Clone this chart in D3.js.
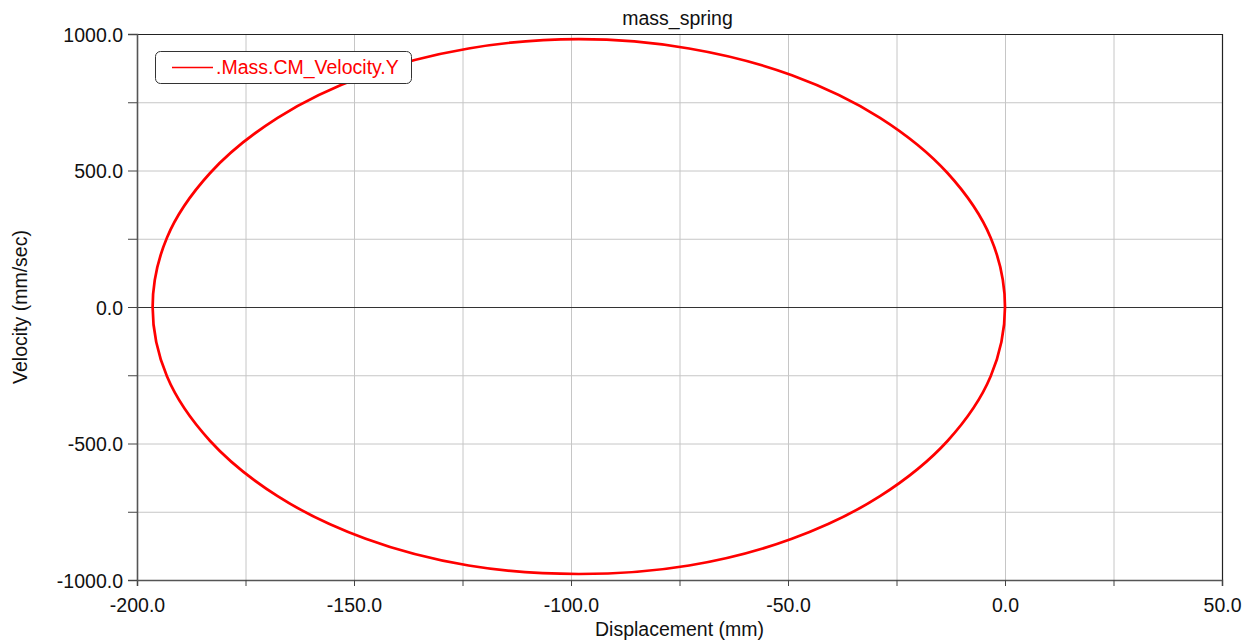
<!DOCTYPE html>
<html>
<head>
<meta charset="utf-8">
<script src="https://cdn.jsdelivr.net/npm/d3@7"></script>
<style>
  body { margin: 0; background: #fff; }
  svg { display: block; font-family: "Liberation Sans", Arial, sans-serif; }
</style>
</head>
<body>
<svg id="chart" width="1258" height="643"></svg>
<script>
// values (displacement mm, velocity mm/sec), one loop round the ellipse
const displacement = [0, -3.3, -13.2, -28.8, -49.1, -72.8, -98.2, -123.6, -147.3, -167.6, -183.2, -193.1,
  -196.4, -193.1, -183.2, -167.6, -147.3, -123.6, -98.2, -72.8, -49.1, -28.8, -13.2, -3.3];
const velocity = [0, 254, 490, 693, 849, 947, 981, 947, 849, 693, 490, 254,
  0, -254, -490, -693, -849, -947, -978, -947, -849, -693, -490, -254];

const xTicks = [-200, -175, -150, -125, -100, -75, -50, -25, 0, 25, 50];
const xLabels = [-200, -150, -100, -50, 0, 50];
const yTicks = [-1000, -750, -500, -250, 0, 250, 500, 750, 1000];
const yLabels = [-1000, -500, 0, 500, 1000];

const title = "mass_spring";
const seriesName = ".Mass.CM_Velocity.Y";
const xTitle = "Displacement (mm)";
const yTitle = "Velocity (mm/sec)";

const svg = d3.select("#chart");
const plotLeft = 137, plotRight = 1222, plotTop = 34, plotBottom = 580;
const fontSize = 19.5;

const x = d3.scaleLinear().domain([-200, 50]).range([plotLeft, plotRight]);
const y = d3.scaleLinear().domain([-1000, 1000]).range([plotBottom, plotTop]);
// plain hyphen for the minus sign, like the original
const fmt = d3.formatLocale({ decimal: ".", thousands: ",", grouping: [3], currency: ["", ""], minus: "-" }).format(".1f");

// grid
svg.append("g").selectAll("line").data(xTicks.slice(1, -1)).join("line")
  .attr("x1", d => x(d) + 0.5).attr("x2", d => x(d) + 0.5)
  .attr("y1", plotTop).attr("y2", plotBottom)
  .attr("stroke", "#c6c6c6").attr("stroke-width", 1);
svg.append("g").selectAll("line").data(yTicks.slice(1, -1)).join("line")
  .attr("x1", plotLeft).attr("x2", plotRight)
  .attr("y1", d => y(d) + 0.5).attr("y2", d => y(d) + 0.5)
  .attr("stroke", d => d === 0 ? "#333" : "#c6c6c6").attr("stroke-width", 1);

// frame
svg.append("line").attr("x1", plotLeft).attr("x2", plotRight).attr("y1", plotTop + 0.5).attr("y2", plotTop + 0.5)
  .attr("stroke", "#222").attr("stroke-width", 1.2);
svg.append("line").attr("x1", plotRight + 0.5).attr("x2", plotRight + 0.5).attr("y1", plotTop).attr("y2", plotBottom)
  .attr("stroke", "#222").attr("stroke-width", 1.2);

// axes
const xAxis = svg.append("g").attr("transform", `translate(0,${plotBottom})`)
  .call(d3.axisBottom(x).tickValues(xTicks).tickSize(6).tickFormat(d => xLabels.includes(d) ? fmt(d) : ""));
const yAxis = svg.append("g").attr("transform", `translate(${plotLeft},0)`)
  .call(d3.axisLeft(y).tickValues(yTicks).tickSize(9).tickFormat(d => yLabels.includes(d) ? fmt(d) : ""));

[xAxis, yAxis].forEach(g => {
  g.select(".domain").attr("stroke", "#555").attr("stroke-width", 1.6);
  g.selectAll(".tick line").attr("stroke", "#444").attr("stroke-width", 1);
  g.selectAll(".tick text").attr("fill", "#111").attr("font-size", fontSize)
    .attr("font-family", "Liberation Sans, Arial, sans-serif");
});
xAxis.selectAll(".tick text").attr("dy", "1.2em");
yAxis.selectAll(".tick text").attr("x", -14).attr("dy", "0.36em");

// curve
const pts = displacement.map((d, i) => [d, velocity[i]]);
const line = d3.line().x(d => x(d[0])).y(d => y(d[1])).curve(d3.curveCatmullRomClosed);
svg.append("path").datum(pts).attr("d", line)
  .attr("fill", "none").attr("stroke", "#ff0000").attr("stroke-width", 2.7);

// title and axis titles
svg.append("text").attr("x", (plotLeft + plotRight) / 2 - 2).attr("y", 25).attr("text-anchor", "middle")
  .attr("font-size", fontSize).attr("fill", "#111").text(title);
svg.append("text").attr("x", (plotLeft + plotRight) / 2).attr("y", 636).attr("text-anchor", "middle")
  .attr("font-size", fontSize).attr("fill", "#111").text(xTitle);
svg.append("text").attr("transform", `translate(27,${(plotTop + plotBottom) / 2}) rotate(-90)`)
  .attr("text-anchor", "middle").attr("font-size", fontSize).attr("fill", "#111").text(yTitle);

// legend
const lg = svg.append("g");
lg.append("rect").attr("x", 155.5).attr("y", 51.5).attr("width", 256).attr("height", 32).attr("rx", 5)
  .attr("fill", "#fff").attr("stroke", "#333").attr("stroke-width", 1);
lg.append("line").attr("x1", 172).attr("x2", 213).attr("y1", 67.5).attr("y2", 67.5)
  .attr("stroke", "#ff0000").attr("stroke-width", 1.6);
lg.append("text").attr("x", 216).attr("y", 74).attr("font-size", fontSize).attr("fill", "#ff0000").text(seriesName);
</script>
</body>
</html>
